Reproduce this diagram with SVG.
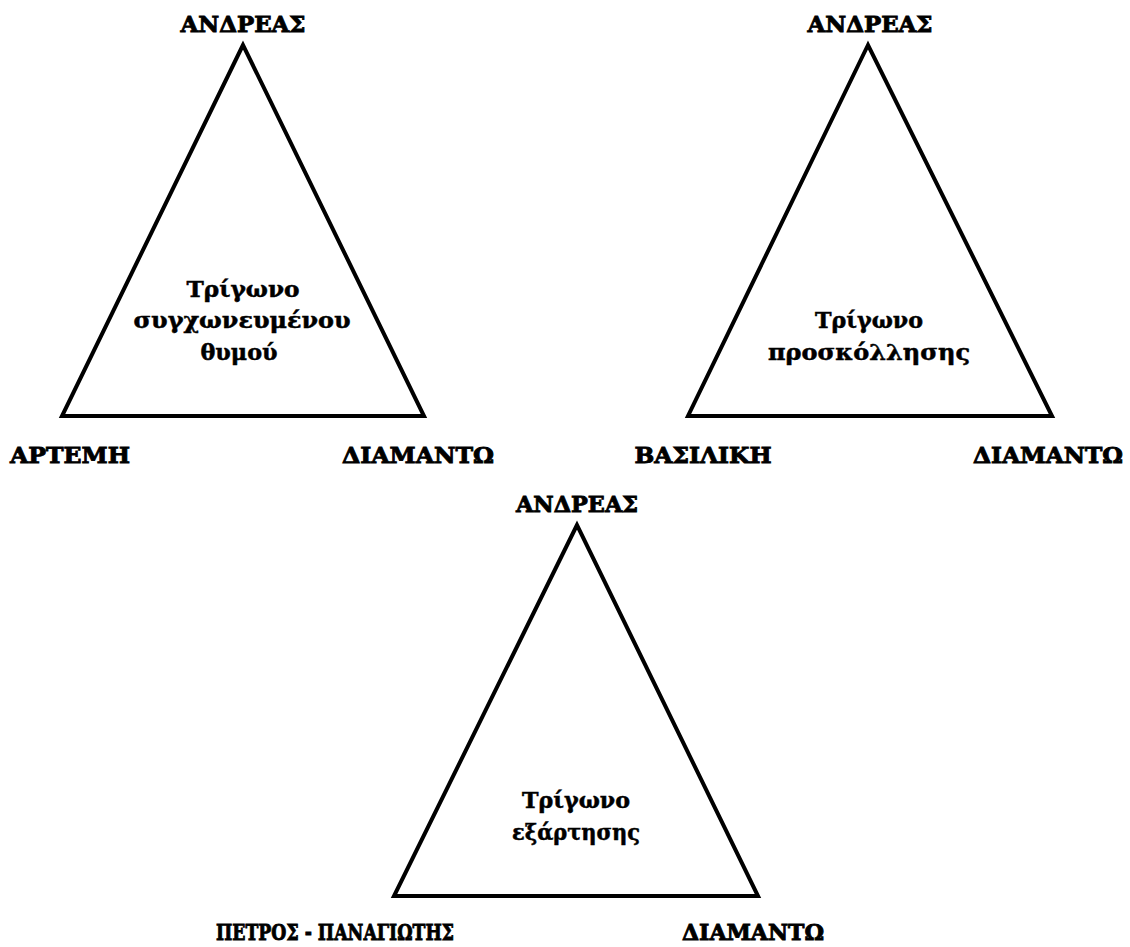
<svg xmlns="http://www.w3.org/2000/svg" width="1130" height="947" viewBox="0 0 1130 947">
<style>
.tri{fill:none;stroke:#000;stroke-width:4;stroke-linejoin:miter}
.lbl{font-family:"DejaVu Serif","Liberation Serif",serif;font-weight:bold;font-size:22px;fill:#000;stroke:#000;stroke-width:0.9;text-anchor:middle}
.ctr{font-family:"DejaVu Serif","Liberation Serif",serif;font-weight:bold;font-size:22px;fill:#000;stroke:#000;stroke-width:0.5;text-anchor:middle}
</style>
<rect width="1130" height="947" fill="#fff"/>
<g id="connectors">
<polygon class="tri" points="243,45 62,416 424,416"/>
<polygon class="tri" points="868,45 688,416 1052,416"/>
<polygon class="tri" points="577,525 394,896 758,896"/>
</g>
<g id="node-andreas-1"><text class="lbl" x="243" y="32" textLength="125" lengthAdjust="spacingAndGlyphs">ΑΝΔΡΕΑΣ</text></g>
<g id="node-artemi"><text class="lbl" x="70" y="463" textLength="120" lengthAdjust="spacingAndGlyphs">ΑΡΤΕΜΗ</text></g>
<g id="node-diamanto-1"><text class="lbl" x="418" y="463" textLength="152" lengthAdjust="spacingAndGlyphs">ΔΙΑΜΑΝΤΩ</text></g>
<g id="node-label-1"><text class="ctr" x="243" y="297" textLength="113" lengthAdjust="spacingAndGlyphs">Τρίγωνο</text><text class="ctr" x="242" y="328" textLength="217" lengthAdjust="spacingAndGlyphs">συγχωνευμένου</text><text class="ctr" x="239" y="360" textLength="77" lengthAdjust="spacingAndGlyphs">θυμού</text></g>
<g id="node-andreas-2"><text class="lbl" x="870" y="32" textLength="125" lengthAdjust="spacingAndGlyphs">ΑΝΔΡΕΑΣ</text></g>
<g id="node-vasiliki"><text class="lbl" x="703" y="463" textLength="137" lengthAdjust="spacingAndGlyphs">ΒΑΣΙΛΙΚΗ</text></g>
<g id="node-diamanto-2"><text class="lbl" x="1048" y="463" textLength="150" lengthAdjust="spacingAndGlyphs">ΔΙΑΜΑΝΤΩ</text></g>
<g id="node-label-2"><text class="ctr" x="869" y="328" textLength="108" lengthAdjust="spacingAndGlyphs">Τρίγωνο</text><text class="ctr" x="869" y="360" textLength="202" lengthAdjust="spacingAndGlyphs">προσκόλλησης</text></g>
<g id="node-andreas-3"><text class="lbl" x="577" y="512" textLength="122" lengthAdjust="spacingAndGlyphs">ΑΝΔΡΕΑΣ</text></g>
<g id="node-petros"><text class="lbl" x="335" y="940" textLength="238" lengthAdjust="spacingAndGlyphs">ΠΕΤΡΟΣ - ΠΑΝΑΓΙΩΤΗΣ</text></g>
<g id="node-diamanto-3"><text class="lbl" x="753" y="940" textLength="142" lengthAdjust="spacingAndGlyphs">ΔΙΑΜΑΝΤΩ</text></g>
<g id="node-label-3"><text class="ctr" x="576" y="808" textLength="108" lengthAdjust="spacingAndGlyphs">Τρίγωνο</text><text class="ctr" x="576" y="840" textLength="128" lengthAdjust="spacingAndGlyphs">εξάρτησης</text></g>
</svg>
